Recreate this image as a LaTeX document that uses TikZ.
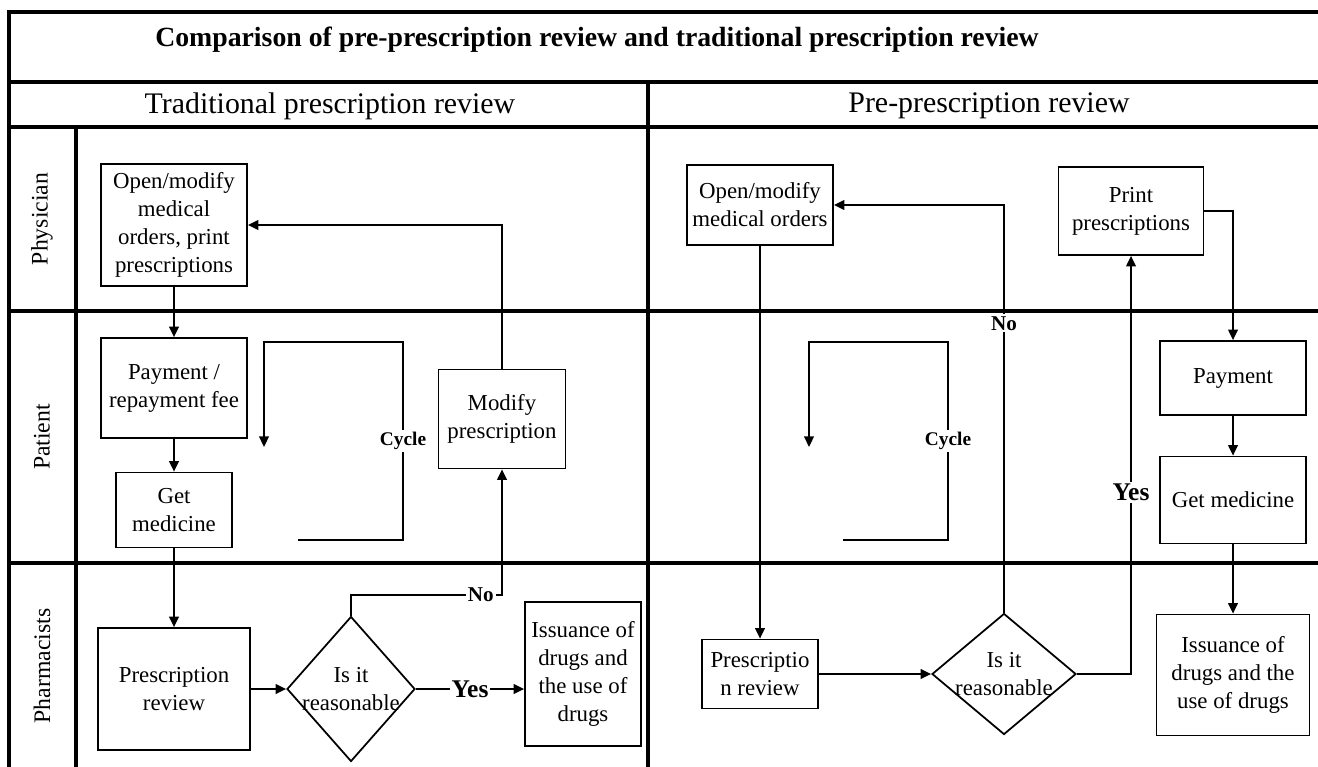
\documentclass[tikz,border=0pt]{standalone}
\usepackage{fontspec}
\setmainfont{Liberation Serif}
\usetikzlibrary{shapes.geometric,arrows.meta}
\newlength\pxu
\setlength\pxu{0.02cm}

\begin{document}
\begin{tikzpicture}[x=0.02cm,y=-0.02cm,
    box/.style={draw,line width=1pt,align=center,inner sep=1pt,font=\fontsize{13}{16}\selectfont},
    chk/.style={draw,diamond,line width=1pt,inner sep=0pt},
    flow/.style={-{Triangle[length=6pt,width=5.5pt]},line width=1pt},
    lane/.style={line width=1.9pt},
    tag/.style={fill=white,inner sep=1pt,font=\bfseries\fontsize{12}{14}\selectfont},
    ]
\useasboundingbox (0,0) rectangle (1318,767);

%-------------------------------------------- Swimlane frame
\draw[lane] (9,767)--(9,12)--(1318,12);
\draw[lane] (9,82)--(1318,82);
\draw[lane] (9,127)--(1318,127);
\draw[lane] (9,311)--(1318,311);
\draw[lane] (9,563)--(1318,563);
\draw[lane] (76,127)--(76,767);
\draw[lane] (648,82)--(648,767);

% Titles
\node[font=\bfseries\fontsize{15.8}{19}\selectfont] (title) at (597,40)
    {Comparison of pre-prescription review and traditional prescription review};
\node[font=\fontsize{17}{19}\selectfont] (hTrad) at (330,106) {Traditional prescription review};
\node[font=\fontsize{17}{19}\selectfont] (hPre) at (989,106) {Pre-prescription review};

% Lane names
\node[rotate=90,font=\fontsize{13.5}{16}\selectfont] (lPhy) at (42,219) {Physician};
\node[rotate=90,font=\fontsize{13.5}{16}\selectfont] (lPat) at (42,437) {Patient};
\node[rotate=90,font=\fontsize{13.5}{16}\selectfont] (lPha) at (42,666) {Pharmacists};

%-------------------------------------------- Traditional review
\node[box,minimum width=146\pxu,minimum height=122\pxu] (tOpen) at (174,225)
    {Open/modify\\medical\\orders, print\\prescriptions};
\node[box,minimum width=146\pxu,minimum height=100\pxu] (tPay) at (174,388)
    {Payment /\\repayment fee};
\node[box,minimum width=116\pxu,minimum height=75\pxu] (tGet) at (174,510)
    {Get\\medicine};
\node[box,minimum width=152\pxu,minimum height=122\pxu] (tRev) at (174,689)
    {Prescription\\review};
\node[chk,minimum width=128\pxu,minimum height=145\pxu] (tChk) at (351,689) {};
\node[align=center,font=\fontsize{13}{16}\selectfont] (tChkTxt) at (351,689) {Is it\\reasonable};
\node[box,minimum width=127\pxu,minimum height=99\pxu] (tMod) at (502,419)
    {Modify\\prescription};
\node[box,minimum width=116\pxu,minimum height=144\pxu] (tIss) at (583,674)
    {Issuance of\\drugs and\\the use of\\drugs};

    \draw[flow] (tOpen)--(tPay);
    \draw[flow] (tPay)--(tGet);
    \draw[flow] (tGet)--(tRev);
    \draw[flow] (tRev.east)--(tChk.west);
    \draw[flow] (tChk.east)--node[tag,font=\bfseries\fontsize{14.5}{16}\selectfont]{Yes}(tChk.east-|tIss.west);
    \draw[flow] (tChk.north)--++(0,-21)-|node[tag,pos=0.43]{No}(tMod.south);
    \draw[flow] (tMod.north)|-(tOpen.east);

    % Cycle
    \coordinate (tCycS) at (298,540);
    \coordinate (tCycE) at (264,447);
    \draw[flow] (tCycS)--(403,540)--node[tag,font=\bfseries\fontsize{11}{13}\selectfont]{Cycle}(403,342)
        --(264,342)--(tCycE);

%-------------------------------------------- Pre-prescription review
\node[box,minimum width=146\pxu,minimum height=80\pxu] (pOpen) at (760,205)
    {Open/modify\\medical orders};
\node[box,minimum width=145\pxu,minimum height=88\pxu] (pPrint) at (1131,211)
    {Print\\prescriptions};
\node[box,minimum width=146\pxu,minimum height=74\pxu] (pPay) at (1233,378) {Payment};
\node[box,minimum width=146\pxu,minimum height=87\pxu] (pGet) at (1233,500) {Get medicine};
\node[box,minimum width=116\pxu,minimum height=69\pxu] (pRev) at (760,674)
    {Prescriptio\\n review};
\node[chk,minimum width=144\pxu,minimum height=121\pxu] (pChk) at (1004,674) {};
\node[align=center,font=\fontsize{13}{16}\selectfont] (pChkTxt) at (1004,674) {Is it\\reasonable};
\node[box,minimum width=153\pxu,minimum height=121\pxu] (pIss) at (1233,675)
    {Issuance of\\drugs and the\\use of drugs};

    \draw[flow] (pOpen)--(pRev);
    \draw[flow] (pRev.east)--(pChk.west);
    \draw[flow] (pChk.north)|-node[tag,pos=0.355]{No}(pOpen.east);
    \draw[flow] (pChk.east)-|node[tag,pos=0.717,font=\bfseries\fontsize{14.5}{16}\selectfont]{Yes}(pPrint.south);
    \draw[flow] (pPrint.east)-|(pPay.north);
    \draw[flow] (pPay)--(pGet);
    \draw[flow] (pGet)--(pIss);

    % Cycle
    \coordinate (pCycS) at (843,540);
    \coordinate (pCycE) at (809,447);
    \draw[flow] (pCycS)--(948,540)--node[tag,font=\bfseries\fontsize{11}{13}\selectfont]{Cycle}(948,342)
        --(809,342)--(pCycE);

\end{tikzpicture}
\end{document}
